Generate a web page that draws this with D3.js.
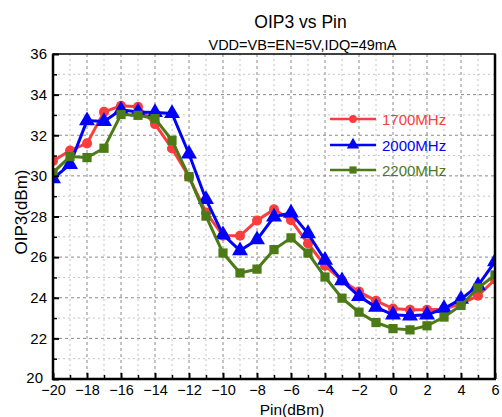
<!DOCTYPE html>
<html><head><meta charset="utf-8">
<script src="https://cdn.jsdelivr.net/npm/d3@7"></script>
<style>body{margin:0;background:#fff}svg{display:block}text{font-family:Arial,"Liberation Sans",sans-serif}</style>
</head><body><svg id="c" width="502" height="417"></svg>
<script>
const pin = [-20,-19,-18,-17,-16,-15,-14,-13,-12,-11,-10,-9,-8,-7,-6,-5,-4,-3,-2,-1,0,1,2,3,4,5,6];
const oip3_1700 = [30.73,31.25,31.6,33.15,33.45,33.4,32.55,31.35,29.96,28.2,27.06,27.05,27.8,28.35,27.82,26.67,25.58,24.85,24.3,23.85,23.47,23.41,23.41,23.44,23.7,24.1,24.9];
const oip3_2000 = [29.86,30.57,32.72,32.68,33.25,33.15,33.12,33.07,31.08,28.84,27.11,26.32,26.86,27.98,28.18,27.16,25.85,24.84,24.07,23.54,23.16,23.11,23.16,23.47,23.93,24.6,25.78];
const oip3_2200 = [30.16,30.95,30.9,31.36,33.02,32.98,32.82,31.75,29.96,28.02,26.2,25.22,25.41,26.37,26.95,26.2,25.02,23.98,23.29,22.78,22.48,22.42,22.62,23.05,23.62,24.48,25.12];
const seriesNames = ["1700MHz","2000MHz","2200MHz"];
const xTicks = [-20,-18,-16,-14,-12,-10,-8,-6,-4,-2,0,2,4,6];
const yTicks = [20,22,24,26,28,30,32,34,36];
const title = "OIP3 vs Pin";
const subtitle = "VDD=VB=EN=5V,IDQ=49mA";
const xLabel = "Pin(dBm)";
const yLabel = "OIP3(dBm)";

const colors = ["#fb3d3d","#0000ff","#4b7a17"];
const shapes = [d3.symbolCircle, d3.symbolTriangle, d3.symbolSquare];
const symSizes = [80, 110, 85];
const seriesData = [oip3_1700, oip3_2000, oip3_2200];

const svg = d3.select("#c");
const L=53, R=495, T=54, B=379;
const x = d3.scaleLinear().domain([-20,6]).range([L,R]);
const y = d3.scaleLinear().domain([20,36]).range([B,T]);

// grid
const g = svg.append("g");
const minorX = d3.range(-19,6,1);
const minorY = d3.range(21,36,1);
minorX.forEach(v=>{
  const major = v%2===0;
  g.append("line").attr("x1",x(v)).attr("x2",x(v)).attr("y1",T).attr("y2",B)
    .attr("stroke", major?"#8a8a8a":"#c4c4c4").attr("stroke-width",1).attr("stroke-dasharray",major?"3,3":"2,3");
});
minorY.forEach(v=>{
  const major = v%2===0;
  g.append("line").attr("y1",y(v)).attr("y2",y(v)).attr("x1",L).attr("x2",R)
    .attr("stroke", major?"#8a8a8a":"#c4c4c4").attr("stroke-width",1).attr("stroke-dasharray",major?"3,3":"2,3");
});

// clip for data
svg.append("clipPath").attr("id","clp").append("rect").attr("x",L).attr("y",T).attr("width",R-L).attr("height",B-T);
const dg = svg.append("g").attr("clip-path","url(#clp)");
const line = d3.line().x((d,i)=>x(pin[i])).y(d=>y(d));
seriesData.forEach((s,k)=>{
  dg.append("path").attr("d",line(s)).attr("fill","none").attr("stroke",colors[k]).attr("stroke-width",3);
  dg.selectAll(null).data(s).enter().append("path")
    .attr("d",d3.symbol().type(shapes[k]).size(symSizes[k]))
    .attr("transform",(d,i)=>`translate(${x(pin[i])},${y(d)})`)
    .attr("fill",colors[k]);
});

// axes frame
svg.append("rect").attr("x",L).attr("y",T).attr("width",R-L).attr("height",B-T).attr("fill","none").attr("stroke","#000").attr("stroke-width",1.5);
svg.append("line").attr("x1",L).attr("x2",L).attr("y1",T).attr("y2",B+1).attr("stroke","#000").attr("stroke-width",2.5);
svg.append("line").attr("x1",L-1).attr("x2",R+1).attr("y1",B).attr("y2",B).attr("stroke","#000").attr("stroke-width",2.5);
svg.append("line").attr("x1",R).attr("x2",R).attr("y1",T).attr("y2",B).attr("stroke","#000").attr("stroke-width",2.5);

const fontFam = "Arial,'Liberation Sans',sans-serif";
const xAxis = d3.axisBottom(x).tickValues(xTicks).tickSize(-6).tickPadding(6).tickFormat(d3.format("d"));
const xa = svg.append("g").attr("transform",`translate(0,${B})`).call(xAxis);
xa.select(".domain").remove();
xa.selectAll("line").attr("stroke-width",2);
xa.selectAll("text").attr("font-size",14.5).attr("fill","#000").style("font-family",fontFam);
svg.append("g").attr("transform",`translate(0,${B})`).call(d3.axisBottom(x).tickValues(minorX.filter(v=>v%2!==0)).tickSize(-4).tickFormat(""))
  .call(a=>{a.select(".domain").remove();a.selectAll("line").attr("stroke-width",1.5);});

const yAxis = d3.axisLeft(y).tickValues(yTicks).tickSize(-6).tickPadding(6).tickFormat(d3.format("d"));
const ya = svg.append("g").attr("transform",`translate(${L},0)`).call(yAxis);
ya.select(".domain").remove();
ya.selectAll("line").attr("stroke-width",2);
ya.selectAll("text").attr("font-size",15).attr("fill","#000").style("font-family",fontFam);
// nudge the lowest label so it does not collide with the first x label
ya.selectAll(".tick").filter(d=>d===20).select("text").attr("x",-10).attr("dy","0.2em");
svg.append("g").attr("transform",`translate(${L},0)`).call(d3.axisLeft(y).tickValues(minorY.filter(v=>v%2!==0)).tickSize(-4).tickFormat(""))
  .call(a=>{a.select(".domain").remove();a.selectAll("line").attr("stroke-width",1.5);});

// titles
svg.append("text").attr("x",300.5).attr("y",28).attr("text-anchor","middle").attr("font-size",17.5).text(title);
svg.append("text").attr("x",302.5).attr("y",50).attr("text-anchor","middle").attr("font-size",14.5).text(subtitle);
svg.append("text").attr("x",292).attr("y",414.5).attr("text-anchor","middle").attr("font-size",15.5).text(xLabel);
svg.append("text").attr("transform","translate(27,212) rotate(-90)").attr("text-anchor","middle").attr("font-size",17).text(yLabel);

// legend
const legY = [119,145,170];
seriesNames.forEach((n,k)=>{
  const lg = svg.append("g");
  lg.append("line").attr("x1",330).attr("x2",376).attr("y1",legY[k]).attr("y2",legY[k]).attr("stroke",colors[k]).attr("stroke-width",2.5);
  lg.append("path").attr("d",d3.symbol().type(shapes[k]).size(symSizes[k]*0.6)).attr("transform",`translate(353,${legY[k]})`).attr("fill",colors[k]);
  lg.append("text").attr("x",382).attr("y",legY[k]+5.5).attr("font-size",15).attr("fill",colors[k]).text(n);
});
</script></body></html>
